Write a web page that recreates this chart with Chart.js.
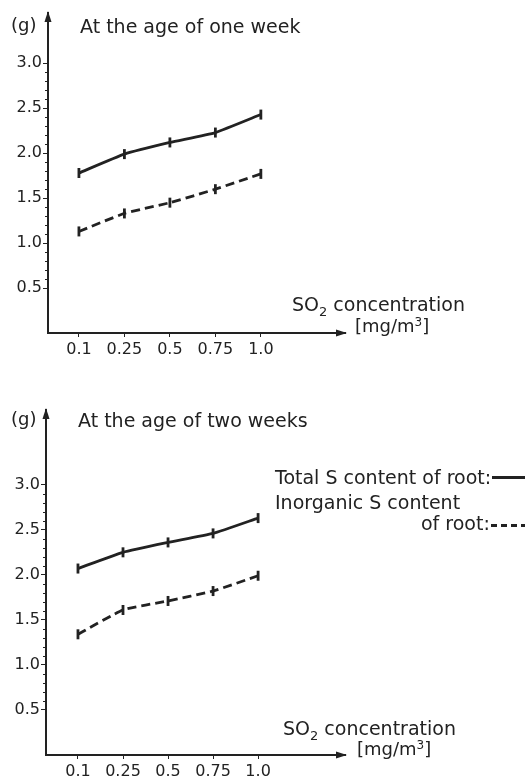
<!DOCTYPE html>
<html>
<head>
<meta charset="utf-8">
<script src="https://cdn.jsdelivr.net/npm/chart.js@4"></script>
<style>
  body { margin: 0; background: #fff; }
  #wrap { position: relative; width: 525px; height: 779px; font-family: "DejaVu Sans", sans-serif; color: #222; }
  #wrap canvas { position: absolute; left: 0; }
  .txt { position: absolute; white-space: nowrap; line-height: 1; font-size: 19px; }
  .txt sub { font-size: 13px; vertical-align: -5px; line-height: 0; }
  .txt sup { font-size: 12px; vertical-align: 6px; line-height: 0; }
  .key { position: absolute; height: 3px; }
  .solid { background: #222; }
  .dashed { background: repeating-linear-gradient(90deg, #222 0 6px, transparent 6px 10px); }
</style>
</head>
<body>
<div id="wrap">
  <canvas id="week1" width="525" height="390" style="top:0"></canvas>
  <canvas id="week2" width="525" height="389" style="top:390px"></canvas>

  <div class="txt" style="left:11px;top:16px;font-size:18px">(g)</div>
  <div class="txt" style="left:80px;top:17px">At the age of one week</div>
  <div class="txt" style="left:292px;top:295px">SO<sub>2</sub> concentration</div>
  <div class="txt" style="left:355px;top:317px;font-size:18px">[mg/m<sup>3</sup>]</div>

  <div class="txt" style="left:11px;top:410px;font-size:18px">(g)</div>
  <div class="txt" style="left:78px;top:411px">At the age of two weeks</div>
  <div class="txt" style="left:275px;top:468px">Total S content of root:</div>
  <div class="key solid" style="left:492px;top:476px;width:33px"></div>
  <div class="txt" style="left:275px;top:493px">Inorganic S content</div>
  <div class="txt" style="left:421px;top:514px">of root:</div>
  <div class="key dashed" style="left:491px;top:524px;width:34px"></div>
  <div class="txt" style="left:283px;top:719px">SO<sub>2</sub> concentration</div>
  <div class="txt" style="left:357px;top:740px;font-size:18px">[mg/m<sup>3</sup>]</div>
</div>

<script>
// SO2 concentrations (mg/m3) on the x axis
const concentrations = ['0.1', '0.25', '0.5', '0.75', '1.0'];
const yTicks = [0.5, 1.0, 1.5, 2.0, 2.5, 3.0];

// root S content (g), one week old plants
const totalWeek1 = [1.78, 1.99, 2.12, 2.23, 2.43];
const inorganicWeek1 = [1.13, 1.33, 1.45, 1.60, 1.77];

// root S content (g), two weeks old plants
const totalWeek2 = [2.07, 2.25, 2.36, 2.46, 2.63];
const inorganicWeek2 = [1.34, 1.61, 1.71, 1.82, 1.99];

const ink = '#222';

// arrow heads on both axes + small minor ticks on the y axis
const axisArrows = {
  id: 'axisArrows',
  afterDraw(chart) {
    const { ctx, chartArea: { left, right, top, bottom } } = chart;
    const y = chart.scales.y;
    ctx.save();
    ctx.fillStyle = ink;
    ctx.strokeStyle = ink;

    ctx.beginPath();
    ctx.moveTo(left, top - 2);
    ctx.lineTo(left - 3.5, top + 9);
    ctx.lineTo(left + 3.5, top + 9);
    ctx.closePath();
    ctx.fill();

    ctx.beginPath();
    ctx.moveTo(right + 2, bottom);
    ctx.lineTo(right - 9, bottom - 3.5);
    ctx.lineTo(right - 9, bottom + 3.5);
    ctx.closePath();
    ctx.fill();

    ctx.lineWidth = 1;
    for (let v = 6; v <= 29; v++) {
      if (v % 5 === 0) continue;
      const py = Math.round(y.getPixelForValue(v / 10)) + 0.5;
      ctx.beginPath();
      ctx.moveTo(left - 3, py);
      ctx.lineTo(left, py);
      ctx.stroke();
    }
    ctx.restore();
  }
};

function series(values) {
  return values.map((v, i) => ({ x: i + 1, y: v }));
}

function makeChart(id, total, inorganic, box) {
  const canvas = document.getElementById(id);
  return new Chart(canvas, {
    type: 'line',
    data: {
      datasets: [
        { data: series(total), borderColor: ink, borderWidth: 2.8 },
        { data: series(inorganic), borderColor: ink, borderWidth: 2.8, borderDash: [9, 5] }
      ]
    },
    options: {
      responsive: false,
      animation: false,
      devicePixelRatio: 1,
      layout: { padding: { left: 0, top: box.top, right: canvas.width - box.right, bottom: 0 } },
      elements: {
        line: { tension: 0.15, fill: false },
        point: { pointStyle: 'line', rotation: 90, radius: 5, borderWidth: 2, borderColor: ink, backgroundColor: ink }
      },
      plugins: { legend: { display: false }, tooltip: { enabled: false } },
      scales: {
        x: {
          type: 'linear',
          min: box.xMin,
          max: box.xMax,
          afterFit(scale) { scale.height = canvas.height - box.bottom; },
          afterBuildTicks(scale) {
            scale.ticks = concentrations.map((c, i) => ({ value: i + 1 }));
          },
          ticks: {
            callback: (v) => concentrations[v - 1],
            color: ink,
            font: { family: 'DejaVu Sans', size: 16 },
            padding: 3,
            maxRotation: 0
          },
          grid: { drawOnChartArea: false, drawTicks: true, tickLength: 4, color: ink, lineWidth: 1 },
          border: { display: true, color: ink, width: 2 }
        },
        y: {
          type: 'linear',
          min: 0,
          max: box.yMax,
          afterFit(scale) { scale.width = box.left; },
          afterBuildTicks(scale) {
            scale.ticks = yTicks.map(v => ({ value: v }));
          },
          ticks: {
            callback: (v) => v.toFixed(1),
            color: ink,
            font: { family: 'DejaVu Sans', size: 16 },
            padding: 1
          },
          grid: { drawOnChartArea: false, drawTicks: true, tickLength: 5, color: ink, lineWidth: 1 },
          border: { display: true, color: ink, width: 2 }
        }
      }
    },
    plugins: [axisArrows]
  });
}

makeChart('week1', totalWeek1, inorganicWeek1,
  { left: 48, right: 345, top: 13, bottom: 333, xMin: 0.32, xMax: 6.85, yMax: 3.56 });
makeChart('week2', totalWeek2, inorganicWeek2,
  { left: 46, right: 345, top: 20, bottom: 365, xMin: 0.29, xMax: 6.93, yMax: 3.83 });
</script>
</body>
</html>
